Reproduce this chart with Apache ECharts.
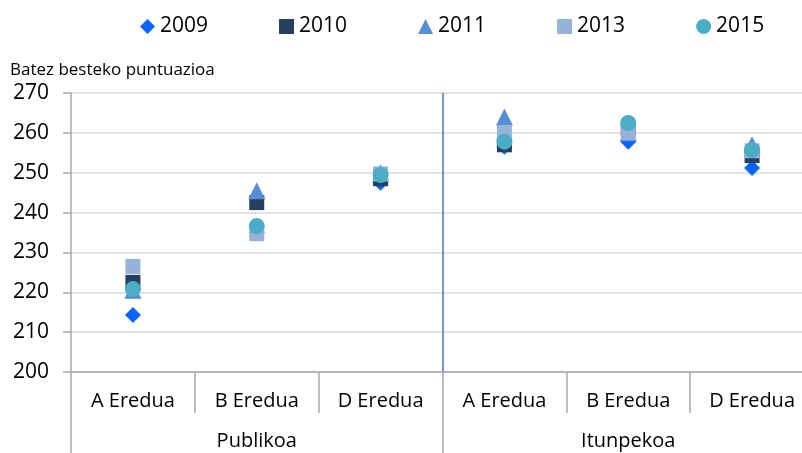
<!DOCTYPE html>
<html>
<head>
<meta charset="utf-8">
<script src="https://cdn.jsdelivr.net/npm/echarts@6/dist/echarts.min.js"></script>
<style>html,body{margin:0;padding:0;background:#fff}#c{width:802px;height:453px}</style>
</head>
<body>
<div id="c"></div>
<script>
const categories = ['A Eredua','B Eredua','D Eredua','A Eredua','B Eredua','D Eredua'];
const groups = ['Publikoa','Itunpekoa'];
const yTicks = { min: 200, max: 270, interval: 10 };
const s2009 = [214.3, 235.0, 247.5, 256.5, 257.8, 251.2];
const s2010 = [222.5, 242.5, 248.5, 257.0, 261.0, 254.3];
const s2011 = [220.5, 245.5, 250.0, 264.0, 260.0, 257.0];
const s2013 = [226.5, 234.7, 249.7, 260.0, 260.0, 255.5];
const s2015 = [220.8, 236.6, 249.4, 257.8, 262.5, 255.7];
const seriesNames = ['2009','2010','2011','2013','2015'];
const seriesData = [s2009, s2010, s2011, s2013, s2015];
const colors = ['#0A64FF','#243F60','#558ED5','#95B3D7','#4BACC6'];
const symbols = ['diamond','rect','triangle','rect','circle'];
const sizes = [16, 15, 17, 15, 16];

const chart = echarts.init(document.getElementById('c'));
const font = '"Open Sans", "Noto Sans", sans-serif';
chart.setOption({
  animation: false,
  textStyle: { fontFamily: font },
  title: {
    text: 'Batez besteko puntuazioa', left: 5, top: 57,
    textStyle: { fontSize: 17, fontWeight: 'normal', color: '#000', fontFamily: font }
  },
  legend: {
    top: 11, left: 135, itemWidth: 15, itemHeight: 15, itemGap: 71,
    textStyle: { fontSize: 21, color: '#000', fontFamily: font },
    data: seriesNames.map((n, i) => ({ name: n, icon: symbols[i] }))
  },
  grid: { left: 71, width: 743, top: 93, height: 279, containLabel: false, outerBoundsMode: 'none' },
  xAxis: [
    {
      type: 'category', data: categories, position: 'bottom',
      axisLine: { show: true, lineStyle: { color: '#A6A6A6', width: 1.5 } },
      axisTick: { show: true, interval: 0, length: 41, lineStyle: { color: '#A6A6A6', width: 1.5 } },
      axisLabel: { interval: 0, margin: 19, fontSize: 20, color: '#000', fontFamily: font },
      splitLine: { show: false }
    },
    {
      type: 'category', data: groups, position: 'bottom',
      axisLine: { show: false },
      axisTick: { show: true, interval: 0, length: 81, lineStyle: { color: '#A6A6A6', width: 1.5 } },
      axisLabel: { interval: 0, margin: 59, fontSize: 20, color: '#000', fontFamily: font },
      splitLine: { show: true, interval: 0, lineStyle: { color: ['transparent', '#4472C4', 'transparent'], width: 1.5 } }
    }
  ],
  yAxis: {
    type: 'value', min: yTicks.min, max: yTicks.max, interval: yTicks.interval,
    axisLine: { show: true, lineStyle: { color: '#A6A6A6', width: 1.5 } },
    axisTick: { show: true, length: 8, inside: false, lineStyle: { color: '#A6A6A6', width: 1.5 } },
    axisLabel: { margin: 22, fontSize: 21, color: '#000', fontFamily: font },
    splitLine: { show: true, lineStyle: { color: '#D9D9D9', width: 1.5 } }
  },
  series: seriesNames.map((n, i) => ({
    name: n, type: 'scatter', xAxisIndex: 0, data: seriesData[i],
    symbol: symbols[i], symbolSize: sizes[i],
    itemStyle: { color: colors[i], opacity: 1 }, z: 2 + i
  }))
});
</script>
</body>
</html>
